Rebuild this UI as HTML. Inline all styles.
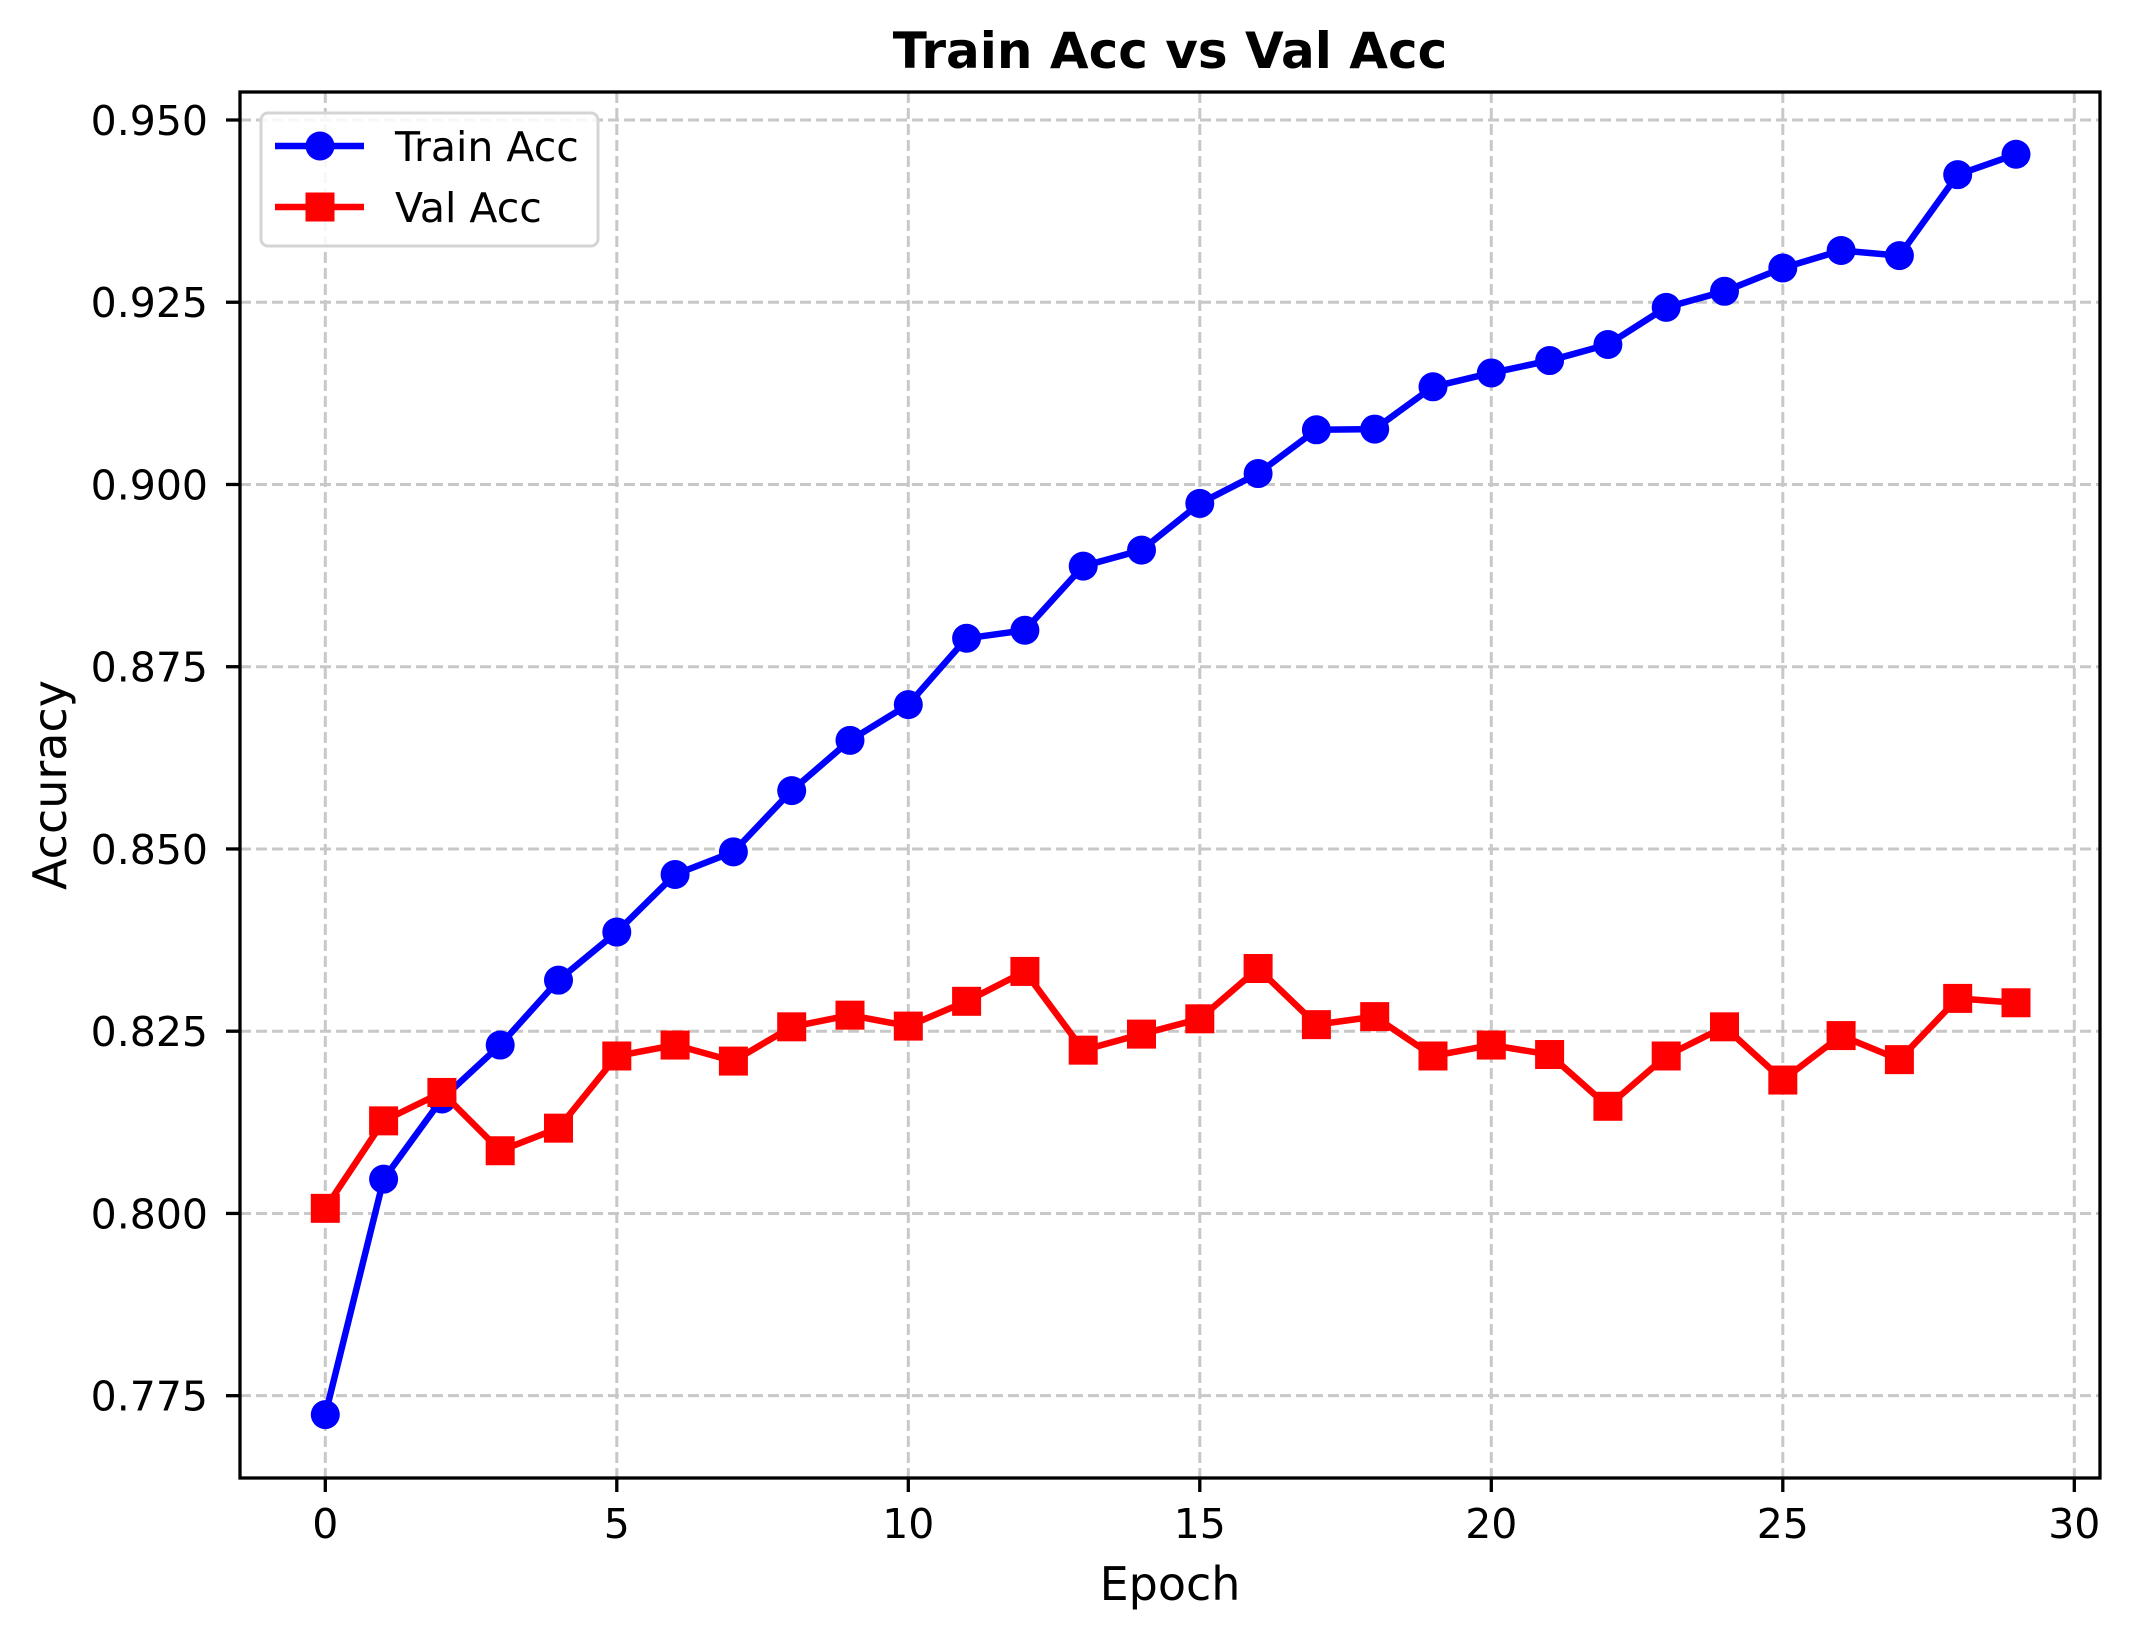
<!DOCTYPE html>
<html><head><meta charset="utf-8"><style>
html,body{margin:0;padding:0;background:#fff;}
svg{display:block;font-family:"DejaVu Sans","Liberation Sans",sans-serif;}
</style></head><body>
<svg id="chart" width="2130" height="1639" viewBox="0 0 2130 1639" xmlns="http://www.w3.org/2000/svg">
<rect width="2130" height="1639" fill="#fff"/>
<g id="grid"></g><g id="series"></g><g id="axes"></g>
</svg>
<script>
const epochs = [0,1,2,3,4,5,6,7,8,9,10,11,12,13,14,15,16,17,18,19,20,21,22,23,24,25,26,27,28,29];
const trainAcc = [0.7724,0.8047,0.8157,0.8231,0.8320,0.8386,0.8465,0.8496,0.8580,0.8649,0.8698,0.8789,0.8800,0.8888,0.8910,0.8974,0.9015,0.9075,0.9076,0.9134,0.9153,0.9170,0.9192,0.9243,0.9265,0.9297,0.9321,0.9314,0.9425,0.9453];
const valAcc = [0.8007,0.8127,0.8166,0.8086,0.8117,0.8216,0.8231,0.8209,0.8256,0.8272,0.8257,0.8291,0.8332,0.8224,0.8246,0.8267,0.8336,0.8259,0.8270,0.8216,0.8231,0.8218,0.8147,0.8216,0.8256,0.8183,0.8244,0.8211,0.8295,0.8289];
const xTicks = [0,5,10,15,20,25,30];
const yTicks = [0.775,0.800,0.825,0.850,0.875,0.900,0.925,0.950];
const yTickLabels = ["0.775","0.800","0.825","0.850","0.875","0.900","0.925","0.950"];

const NS="http://www.w3.org/2000/svg";
const L=240,R=2100,T=92,B=1478;
function xs(v){return 325.3+(v-0)*58.3;}
function ys(v){return 120+(0.950-v)/0.025*182.24;}
function mk(tag,attrs,parent,text){const e=document.createElementNS(NS,tag);for(const k in attrs)e.setAttribute(k,attrs[k]);if(text!==undefined)e.textContent=text;parent.appendChild(e);return e;}
const grid=document.getElementById('grid'),series=document.getElementById('series'),axes=document.getElementById('axes'),svg=document.getElementById('chart');

xTicks.forEach(t=>{const x=xs(t);
 const g=mk('line',{x1:x,x2:x,y1:T,y2:B,stroke:'#c8c8c8','stroke-width':3,'stroke-dasharray':'11,5'},grid);
 
 
 const tk=mk('line',{x1:x,x2:x,y1:B,y2:B+14,stroke:'#000','stroke-width':3.3},axes);
 
 
 const lb=mk('text',{x:x,y:1538,'font-size':41,'text-anchor':'middle'},axes,String(t));
 
 
});
yTicks.forEach((t,i)=>{const y=ys(t);
 const g=mk('line',{x1:L,x2:R,y1:y,y2:y,stroke:'#c8c8c8','stroke-width':3,'stroke-dasharray':'11,5'},grid);
 
 
 const tk=mk('line',{x1:L-14,x2:L,y1:y,y2:y,stroke:'#000','stroke-width':3.3},axes);
 
 
 const lb=mk('text',{x:208,y:y+15,'font-size':41,'text-anchor':'end'},axes,yTickLabels[i]);
 
 
});

function drawSeries(vals,color,shape,name){
 const pts=epochs.map((e,i)=>xs(e)+','+ys(vals[i])).join(' ');
 const pl=mk('polyline',{points:pts,fill:'none',stroke:color,'stroke-width':6.5,'stroke-linejoin':'round'},series);
 
 
 epochs.forEach((e,i)=>{let m;
  if(shape==='circle')m=mk('circle',{cx:xs(e),cy:ys(vals[i]),r:14.5,fill:color},series);
  else m=mk('rect',{x:xs(e)-14.5,y:ys(vals[i])-14.5,width:29,height:29,fill:color},series);
  
  
 });
}
drawSeries(trainAcc,'#0000ff','circle','train-acc');
drawSeries(valAcc,'#ff0000','square','val-acc');

const frame=mk('rect',{x:L,y:T,width:R-L,height:B-T,fill:'none',stroke:'#000','stroke-width':3.3},axes);



const title=mk('text',{x:1170,y:68,'font-size':50,'font-weight':'bold','text-anchor':'middle'},svg,'Train Acc vs Val Acc');


const xl=mk('text',{x:1170,y:1600,'font-size':46,'text-anchor':'middle'},svg,'Epoch');


const yl=mk('text',{x:0,y:0,'font-size':46,'text-anchor':'middle',transform:'translate(66,785) rotate(-90)'},svg,'Accuracy');



const lg=mk('g',{},svg);


mk('rect',{x:261,y:113,width:337,height:133,rx:7,fill:'#fff','fill-opacity':0.85,stroke:'#d4d4d4','stroke-width':3},lg);
const e1=mk('g',{},lg);


mk('line',{x1:275,x2:364,y1:146,y2:146,stroke:'#0000ff','stroke-width':6.5},e1);
mk('circle',{cx:320,cy:146,r:14.5,fill:'#0000ff'},e1);
mk('text',{x:395,y:161,'font-size':41},e1,'Train Acc');
const e2=mk('g',{},lg);


mk('line',{x1:275,x2:364,y1:207,y2:207,stroke:'#ff0000','stroke-width':6.5},e2);
mk('rect',{x:305.5,y:192.5,width:29,height:29,fill:'#ff0000'},e2);
mk('text',{x:395,y:222,'font-size':41},e2,'Val Acc');
</script>
</body></html>
